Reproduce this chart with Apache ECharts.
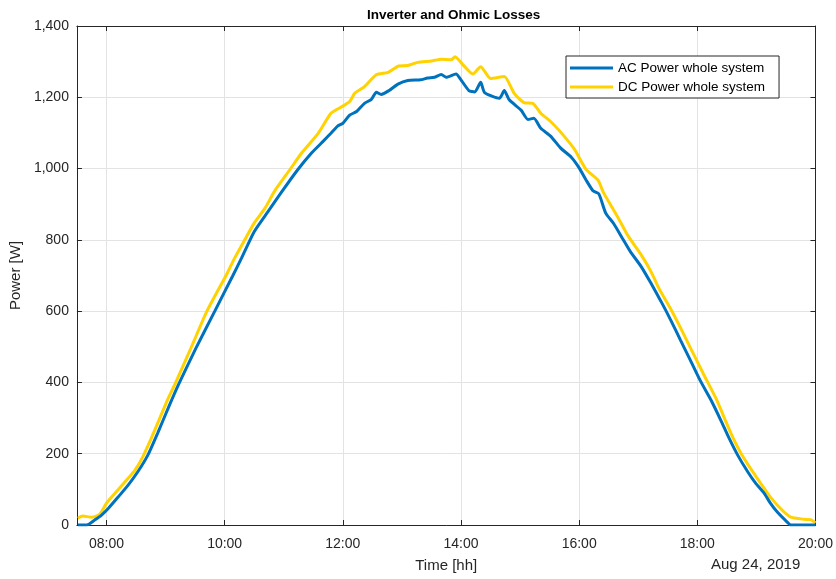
<!DOCTYPE html>
<html>
<head>
<meta charset="utf-8">
<title>Inverter and Ohmic Losses</title>
<script src="https://cdn.jsdelivr.net/npm/echarts@6/dist/echarts.min.js"></script>
<style>
  html, body { margin: 0; padding: 0; background: #fff; }
  #chart { width: 836px; height: 579px; }
</style>
</head>
<body>
<div id="chart"></div>
<script>
// Sample times (HH:MM) and power readings in watts
const acTimes = ['07:31','07:40','07:48','07:55','08:02','08:12','08:22','08:32','08:42','08:52','09:03','09:13','09:31','09:50','10:08','10:17','10:30','10:44','10:57','11:14','11:28','11:38','11:48','11:55','12:00','12:07','12:14','12:22','12:29','12:34','12:39','12:47','12:56','13:06','13:19','13:26','13:33','13:40','13:45','13:55','14:00','14:08','14:14','14:20','14:24','14:39','14:44','14:49','15:01','15:08','15:14','15:21','15:31','15:41','15:52','16:00','16:07','16:14','16:20','16:27','16:35','16:44','16:52','17:03','17:13','17:23','17:33','17:43','17:53','18:03','18:14','18:24','18:32','18:41','18:51','18:59','19:08','19:14','19:21','19:31','19:35','20:00'];
const acPower = [0,0,14,28,47,79,112,150,196,258,330,393,497,600,698,748,823,879,931,996,1043,1071,1099,1120,1127,1150,1160,1183,1194,1214,1208,1219,1237,1247,1249,1254,1256,1264,1256,1265,1249,1219,1215,1242,1213,1197,1219,1193,1164,1138,1141,1113,1091,1058,1032,1002,968,938,929,875,846,804,767,725,678,628,575,518,462,405,350,293,245,196,150,118,89,62,37,9,0,0];

const dcTimes = ['07:31','07:36','07:45','07:52','07:55','08:00','08:10','08:22','08:29','08:37','08:45','08:53','09:01','09:10','09:26','09:42','10:02','10:10','10:20','10:30','10:41','10:51','11:06','11:18','11:35','11:48','11:58','12:07','12:12','12:22','12:34','12:46','12:57','13:06','13:16','13:30','13:40','13:50','13:54','14:02','14:12','14:20','14:30','14:44','14:54','15:04','15:13','15:21','15:31','15:41','15:55','16:07','16:19','16:25','16:39','16:49','17:03','17:13','17:21','17:33','17:43','17:53','18:06','18:19','18:29','18:37','18:45','18:54','19:04','19:14','19:26','19:35','19:48','19:55','20:00'];
const dcPower = [19,25,22,28,37,61,93,131,154,192,240,292,345,398,498,600,703,748,798,847,889,938,996,1043,1099,1155,1172,1188,1211,1230,1263,1270,1288,1289,1298,1302,1307,1305,1314,1291,1265,1286,1253,1258,1211,1185,1183,1155,1132,1103,1055,998,968,931,865,814,758,711,664,606,553,497,425,355,290,240,198,159,118,79,42,22,16,15,6];

const xTickHours = [8, 10, 12, 14, 16, 18, 20];
const seriesNames = ['AC Power whole system', 'DC Power whole system'];

function toHours(t) {
  const p = t.split(':');
  return Number(p[0]) + Number(p[1]) / 60;
}
function pairs(times, values) {
  return times.map((t, i) => [toHours(t), values[i]]);
}
function hourLabel(v) {
  const h = Math.round(v);
  return (h < 10 ? '0' : '') + h + ':00';
}

const AXIS = '#262626';
const GRIDLINE = '#e3e3e3';
const FONT = '"Liberation Sans", Arial, Helvetica, sans-serif';
const AC_COLOR = '#0072BD';
const DC_COLOR = '#FFD200';

const chart = echarts.init(document.getElementById('chart'), null, { renderer: 'canvas' });

const baseX = {
  type: 'value',
  min: 7.5,
  max: 20,
  axisLine: { show: true, onZero: false, lineStyle: { color: AXIS, width: 1 } },
  axisTick: { show: true, inside: true, length: 5, customValues: xTickHours, lineStyle: { color: AXIS } }
};
const baseY = {
  type: 'value',
  min: 0,
  max: 1400,
  interval: 200,
  axisLine: { show: true, onZero: false, lineStyle: { color: AXIS, width: 1 } },
  axisTick: { show: true, inside: true, length: 5, lineStyle: { color: AXIS } }
};

chart.setOption({
  animation: false,
  backgroundColor: '#ffffff',
  grid: { left: 76, right: 20, top: 26, bottom: 54, containLabel: false },
  xAxis: [
    Object.assign({}, baseX, {
      position: 'bottom',
      name: 'Time [hh]',
      nameLocation: 'middle',
      nameGap: 33,
      nameTextStyle: { color: AXIS, fontSize: 15, fontFamily: FONT },
      axisLabel: {
        customValues: xTickHours,
        formatter: hourLabel,
        color: AXIS, fontSize: 14, fontFamily: FONT, margin: 12
      },
      splitLine: { show: true, lineStyle: { color: GRIDLINE, width: 1 } }
    }),
    Object.assign({}, baseX, {
      position: 'top',
      axisLabel: { show: false },
      splitLine: { show: false }
    })
  ],
  yAxis: [
    Object.assign({}, baseY, {
      position: 'left',
      name: 'Power [W]',
      nameLocation: 'middle',
      nameGap: 50,
      nameTextStyle: { color: AXIS, fontSize: 15, fontFamily: FONT },
      axisLabel: {
        formatter: v => v.toLocaleString('en-US'),
        color: AXIS, fontSize: 14, fontFamily: FONT, margin: 8
      },
      splitLine: { show: true, lineStyle: { color: GRIDLINE, width: 1 } }
    }),
    Object.assign({}, baseY, {
      position: 'right',
      axisLabel: { show: false },
      splitLine: { show: false }
    })
  ],
  legend: {
    orient: 'vertical',
    left: 566,
    top: 56,
    padding: [4, 14, 3, 4],
    itemGap: 3,
    itemWidth: 43,
    itemHeight: 3,
    icon: 'rect',
    backgroundColor: '#ffffff',
    borderColor: AXIS,
    borderWidth: 1,
    borderRadius: 0,
    textStyle: { color: '#000', fontSize: 13.5, fontFamily: FONT, lineHeight: 16 },
    data: seriesNames
  },
  graphic: [
    {
      type: 'text',
      left: 367,
      top: 8,
      style: { text: 'Inverter and Ohmic Losses', fill: '#000', font: 'bold 13.5px ' + FONT }
    },
    {
      type: 'text',
      left: 711,
      top: 557,
      style: { text: 'Aug 24, 2019', fill: AXIS, font: '15px ' + FONT }
    }
  ],
  series: [
    {
      name: seriesNames[0],
      type: 'line',
      data: pairs(acTimes, acPower),
      showSymbol: false,
      symbol: 'none',
      smooth: 0.2,
      lineStyle: { color: AC_COLOR, width: 3 },
      itemStyle: { color: AC_COLOR },
      z: 3
    },
    {
      name: seriesNames[1],
      type: 'line',
      data: pairs(dcTimes, dcPower),
      showSymbol: false,
      symbol: 'none',
      smooth: 0.2,
      lineStyle: { color: DC_COLOR, width: 3 },
      itemStyle: { color: DC_COLOR },
      z: 2
    }
  ]
});
</script>
</body>
</html>
